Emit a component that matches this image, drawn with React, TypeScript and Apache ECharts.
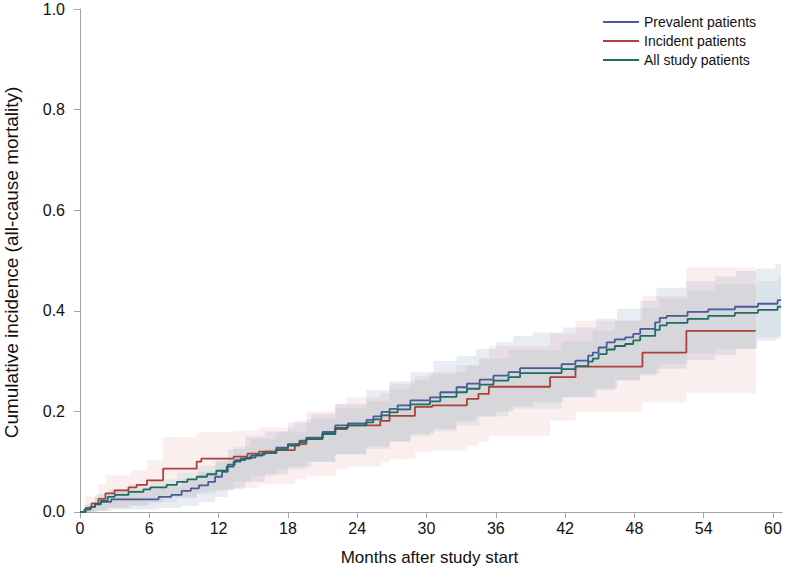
import React, { useEffect, useRef } from "react";
import * as echarts from "echarts";

const xTicks = [0, 6, 12, 18, 24, 30, 36, 42, 48, 54, 60];
const yTicks = [0, 0.2, 0.4, 0.6, 0.8, 1.0];
const seriesNames = ["Prevalent patients", "Incident patients", "All study patients"];
const xTitle = "Months after study start";
const yTitle = "Cumulative incidence (all-cause mortality)";

// [month, cumulative incidence]
const prevalent = [
  [0, 0], [0.4, 0.005], [0.9, 0.01], [1.3, 0.015], [1.8, 0.02], [2.7, 0.025], [6.8, 0.03], [7.9, 0.034],
  [8.8, 0.042], [9.6, 0.047], [10.3, 0.053], [11.1, 0.06], [11.7, 0.07], [12.3, 0.08], [12.8, 0.094],
  [13.4, 0.103], [14.3, 0.108], [15.2, 0.114], [16.0, 0.12], [17.0, 0.128], [18.0, 0.135], [19.0, 0.142],
  [19.6, 0.148], [21.0, 0.159], [22.1, 0.172], [23.2, 0.176], [24.8, 0.183], [25.4, 0.19], [26.1, 0.199],
  [26.8, 0.205], [27.5, 0.212], [28.6, 0.222], [30.3, 0.228], [31.2, 0.238], [32.6, 0.248], [33.5, 0.255],
  [34.6, 0.263], [35.8, 0.271], [37.1, 0.278], [38.1, 0.286], [41.7, 0.294], [42.9, 0.301], [44.0, 0.311],
  [44.4, 0.317], [44.9, 0.327], [45.6, 0.337], [46.3, 0.343], [47.2, 0.347], [47.9, 0.354], [48.5, 0.364],
  [49.8, 0.377], [50.2, 0.386], [50.8, 0.39], [52.6, 0.398], [54.4, 0.403], [56.7, 0.408], [58.7, 0.414],
  [60.4, 0.421], [60.7, 0.421],
];
const incident = [
  [0, 0], [0.5, 0.008], [1.0, 0.017], [1.6, 0.026], [2.2, 0.037], [3.0, 0.043], [4.2, 0.049], [4.9, 0.054],
  [5.8, 0.063], [7.2, 0.086], [10.1, 0.1], [10.5, 0.106], [13.3, 0.11], [14.5, 0.116], [15.5, 0.12],
  [17.0, 0.123], [18.6, 0.135], [19.6, 0.146], [21.0, 0.155], [22.1, 0.165], [23.1, 0.172], [26.0, 0.181],
  [26.8, 0.191], [29.0, 0.209], [30.5, 0.212], [33.5, 0.225], [34.5, 0.235], [35.4, 0.249], [40.7, 0.268],
  [42.9, 0.289], [48.7, 0.317], [52.5, 0.36], [58.5, 0.36],
];
const allStudy = [
  [0, 0], [0.4, 0.005], [0.9, 0.01], [1.3, 0.016], [1.8, 0.022], [2.4, 0.03], [3.0, 0.034], [4.2, 0.04],
  [5.5, 0.045], [6.1, 0.049], [7.5, 0.054], [8.4, 0.06], [9.3, 0.065], [10.1, 0.07], [11.0, 0.075],
  [11.8, 0.082], [12.7, 0.09], [13.3, 0.1], [13.9, 0.106], [14.8, 0.112], [15.8, 0.117], [17.0, 0.125],
  [18.0, 0.132], [19.0, 0.139], [19.6, 0.145], [21.0, 0.155], [22.1, 0.167], [23.2, 0.172], [24.8, 0.178],
  [25.4, 0.184], [26.1, 0.192], [26.8, 0.198], [27.5, 0.204], [28.6, 0.214], [30.3, 0.22], [31.2, 0.229],
  [32.6, 0.238], [33.5, 0.245], [34.6, 0.253], [35.8, 0.261], [37.1, 0.268], [38.1, 0.276], [41.7, 0.284],
  [42.9, 0.29], [44.0, 0.299], [44.4, 0.305], [44.9, 0.314], [45.6, 0.323], [46.3, 0.33], [47.2, 0.334],
  [47.9, 0.341], [48.5, 0.35], [49.8, 0.362], [50.2, 0.371], [50.8, 0.376], [52.6, 0.384], [54.4, 0.39],
  [56.7, 0.396], [58.7, 0.402], [60.4, 0.408], [60.7, 0.408],
];

// [month, lower CI, upper CI]
const prevalentBand = [
  [0, 0, 0], [0.4, 0, 0.015], [1.3, 0.002, 0.035], [2.7, 0.005, 0.045], [6.8, 0.008, 0.05], [8.8, 0.012, 0.065],
  [10.3, 0.02, 0.08], [11.7, 0.03, 0.1], [12.8, 0.045, 0.125], [14.3, 0.06, 0.15], [16, 0.075, 0.16],
  [18, 0.09, 0.178], [20, 0.1, 0.195], [22.1, 0.115, 0.215], [24.8, 0.13, 0.242], [26.8, 0.14, 0.26],
  [28.6, 0.155, 0.278], [30.6, 0.165, 0.3], [32.6, 0.18, 0.31], [34.3, 0.19, 0.324], [36, 0.2, 0.338],
  [37.5, 0.21, 0.35], [39.2, 0.218, 0.357], [41.8, 0.228, 0.367], [44.7, 0.245, 0.384], [46.5, 0.262, 0.404],
  [48.5, 0.272, 0.42], [49.9, 0.285, 0.446], [52.5, 0.302, 0.459], [55, 0.312, 0.468], [56.8, 0.325, 0.479],
  [58.6, 0.34, 0.484], [60.2, 0.345, 0.493], [60.7, 0.345, 0.493],
];
const incidentBand = [
  [0, 0, 0], [0.5, 0, 0.03], [1.6, 0.003, 0.055], [2.2, 0.008, 0.073], [4.4, 0.012, 0.083], [5.8, 0.018, 0.103],
  [7.2, 0.03, 0.149], [10.1, 0.038, 0.156], [10.5, 0.042, 0.159], [13.3, 0.048, 0.162], [15.5, 0.055, 0.168],
  [18.6, 0.065, 0.182], [19.6, 0.072, 0.2], [22.1, 0.085, 0.215], [23.1, 0.09, 0.228], [26.0, 0.098, 0.236],
  [26.8, 0.105, 0.255], [29.0, 0.12, 0.27], [30.5, 0.122, 0.278], [33.5, 0.132, 0.29], [34.5, 0.14, 0.305],
  [35.4, 0.152, 0.33], [40.7, 0.182, 0.355], [42.9, 0.2, 0.38], [48.7, 0.218, 0.43], [52.5, 0.236, 0.486],
  [58.5, 0.236, 0.486],
];
const allStudyBand = [
  [0, 0, 0], [0.4, 0, 0.013], [1.3, 0.003, 0.03], [2.4, 0.008, 0.045], [4.2, 0.013, 0.055], [6.1, 0.02, 0.065],
  [8.4, 0.028, 0.078], [10.1, 0.036, 0.092], [11.8, 0.045, 0.108], [13.3, 0.06, 0.13], [14.8, 0.072, 0.145],
  [17, 0.085, 0.16], [19.6, 0.1, 0.185], [22.1, 0.115, 0.207], [24.8, 0.125, 0.22], [26.8, 0.14, 0.245],
  [28.6, 0.15, 0.262], [30.3, 0.16, 0.275], [32.6, 0.172, 0.292], [34.6, 0.19, 0.305], [37.1, 0.205, 0.322],
  [41.7, 0.228, 0.34], [44.4, 0.242, 0.36], [46.3, 0.262, 0.38], [48.5, 0.275, 0.405], [50.2, 0.294, 0.425],
  [52.6, 0.315, 0.44], [55, 0.324, 0.453], [58.6, 0.347, 0.459], [60.4, 0.35, 0.467], [60.7, 0.35, 0.467],
];

const lineColors = ["#4b5a9a", "#ad4038", "#1d6e62"];
const bandColors = ["rgba(111,126,179,0.15)", "rgba(208,91,91,0.1)", "rgba(102,165,160,0.12)"];
const FONT = "'Liberation Sans', Arial, sans-serif";

function bandSeries(name: string, band: number[][], color: string) {
  return {
    type: "custom",
    name,
    data: band,
    encode: { x: 0, y: [1, 2] },
    silent: true,
    z: 1,
    renderItem: (params: any, api: any) => {
      if (params.dataIndex !== 0) return null;
      const pts: number[][] = [];
      for (let i = 0; i < band.length; i++) {
        const t1 = i + 1 < band.length ? band[i + 1][0] : band[i][0];
        pts.push(api.coord([band[i][0], band[i][2]]));
        pts.push(api.coord([t1, band[i][2]]));
      }
      for (let i = band.length - 1; i >= 0; i--) {
        const t1 = i + 1 < band.length ? band[i + 1][0] : band[i][0];
        pts.push(api.coord([t1, band[i][1]]));
        pts.push(api.coord([band[i][0], band[i][1]]));
      }
      return { type: "polygon", shape: { points: pts }, style: { fill: color, stroke: "none" } };
    },
  };
}

function lineSeries(name: string, data: number[][], color: string) {
  return {
    type: "line",
    name,
    data,
    step: "end",
    symbol: "none",
    showSymbol: false,
    z: 3,
    lineStyle: { color, width: 1.8 },
    itemStyle: { color },
  };
}

export default function App() {
  const ref = useRef<HTMLDivElement>(null);
  useEffect(() => {
    if (!ref.current) return;
    const chart = echarts.init(ref.current, undefined, { renderer: "svg" });
    const axisColor = "#a3a3a3";
    chart.setOption({
      animation: false,
      backgroundColor: "#ffffff",
      grid: { left: 77, right: 5, top: 9, bottom: 66, containLabel: false, outerBoundsMode: "none" },
      legend: {
        data: seriesNames,
        orient: "vertical",
        left: 598,
        top: 10,
        icon: "rect",
        itemWidth: 36,
        itemHeight: 2,
        itemGap: 5,
        textStyle: { fontSize: 14, color: "#111", fontFamily: FONT },
      },
      xAxis: {
        type: "value",
        min: -0.26,
        max: 60.78,
        name: xTitle,
        nameLocation: "middle",
        nameGap: 33,
        nameTextStyle: { fontSize: 17, color: "#111", fontFamily: FONT },
        axisLine: { show: true, lineStyle: { color: axisColor, width: 1 } },
        axisTick: { show: true, length: 6, customValues: xTicks, lineStyle: { color: axisColor } },
        axisLabel: { customValues: xTicks, fontSize: 16, color: "#111", fontFamily: FONT, margin: 4 },
        splitLine: { show: false },
      },
      yAxis: {
        type: "value",
        min: -0.008,
        max: 1.0,
        name: yTitle,
        nameLocation: "middle",
        nameGap: 56,
        nameTextStyle: { fontSize: 19, color: "#111", fontFamily: FONT },
        axisLine: { show: true, lineStyle: { color: axisColor, width: 1 } },
        axisTick: { show: true, length: 6, customValues: yTicks, lineStyle: { color: axisColor } },
        axisLabel: {
          customValues: yTicks,
          fontSize: 16,
          lineHeight: 13,
          color: "#111",
          fontFamily: FONT,
          margin: 12,
          formatter: (v: number) => v.toFixed(1),
        },
        splitLine: { show: false },
      },
      series: [
        bandSeries("Prevalent band", prevalentBand, bandColors[0]),
        bandSeries("Incident band", incidentBand, bandColors[1]),
        bandSeries("All band", allStudyBand, bandColors[2]),
        lineSeries(seriesNames[0], prevalent, lineColors[0]),
        lineSeries(seriesNames[1], incident, lineColors[1]),
        lineSeries(seriesNames[2], allStudy, lineColors[2]),
      ],
    });
    return () => chart.dispose();
  }, []);
  return (
    <div
      ref={ref}
      style={{ position: "fixed", left: 0, top: 0, width: 787, height: 582, background: "#fff" }}
    />
  );
}
